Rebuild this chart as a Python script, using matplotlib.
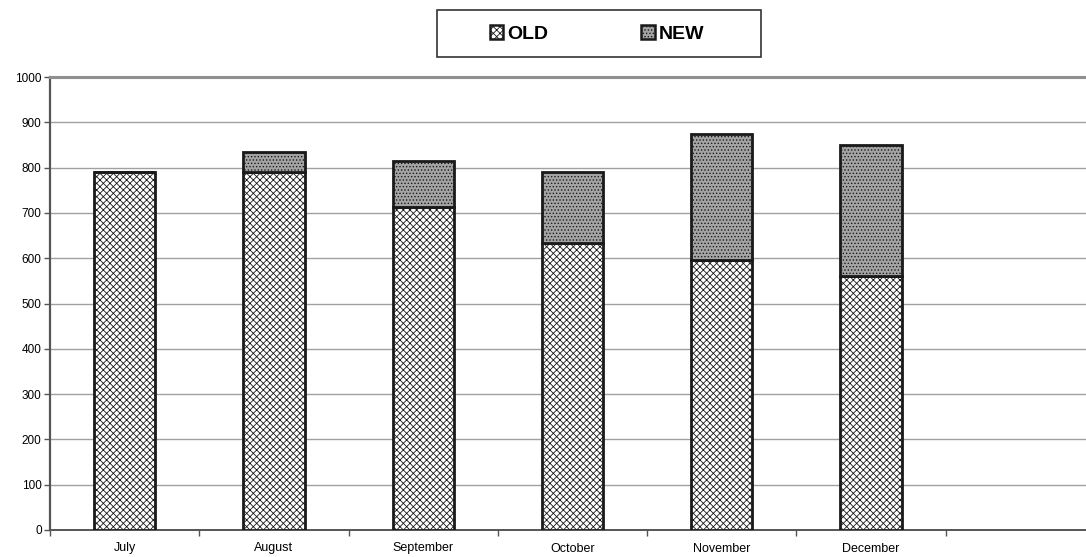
import numpy as np
import matplotlib.pyplot as plt
import matplotlib as mpl
from matplotlib.patches import Rectangle

plt.rcParams['font.family'] = ['Liberation Sans', 'DejaVu Sans']
mpl.rcParams['hatch.linewidth'] = 0.6

months = ['July', 'August', 'September', 'October', 'November', 'December']
old = [790, 790, 713, 634, 597, 561]
new = [0, 44, 102, 156, 278, 289]

fig = plt.figure(figsize=(10.86, 5.57), dpi=100)
ax = fig.add_axes([50/1086, 1 - 530/557, 1036/1086, 453/557])

x = np.arange(len(months))
w = 0.41
mpl.rcParams['hatch.color'] = '#a0a0a0'
b1 = ax.bar(x, old, w, color='white', edgecolor='#1a1a1a', linewidth=2,
            hatch='xxxxx', label='OLD', zorder=3)
b2 = ax.bar(x, new, w, bottom=old, color='#a4a4a4', edgecolor='#1a1a1a',
            linewidth=2, hatch='.....', label='NEW', zorder=3)

ax.set_yticks(np.arange(0, 1001, 100))
ax.yaxis.grid(True, color='#a0a0a0', linewidth=1)
ax.set_axisbelow(True)

ax.set_xticks(x)
ax.set_xticklabels(months, fontsize=9)
ax.set_xticks(np.arange(-0.5, 6, 1), minor=True)
ax.set_ylim(0, 1000)
ax.set_xlim(-0.5, 6.44)
ax.tick_params(axis='x', which='major', length=0, pad=9)
ax.tick_params(axis='x', which='minor', length=4, width=1, color='#555555', direction='out')
ax.tick_params(axis='y', length=4, width=1, color='#555555', labelsize=8.5, pad=2)

ax.spines['right'].set_visible(False)
ax.spines['top'].set_color('#909090')
ax.spines['top'].set_linewidth(2.2)
ax.spines['left'].set_color('#555555')
ax.spines['left'].set_linewidth(1.6)
ax.spines['bottom'].set_color('#555555')
ax.spines['bottom'].set_linewidth(1.4)

# legend box
fig.patches.append(Rectangle((437/1086, 1 - 57/557), 324/1086, 47/557,
                             transform=fig.transFigure, facecolor='white',
                             edgecolor='#333333', linewidth=1.2))
leg = fig.legend(handles=[b1, b2], labels=['OLD', 'NEW'], loc='center',
                 bbox_to_anchor=(597/1086, 1 - 34/557), ncol=2,
                 prop={'weight': 'bold', 'size': 14}, frameon=False,
                 handlelength=0.7, handleheight=0.7, handletextpad=0.2,
                 columnspacing=4.8, borderaxespad=0)
for h in leg.legend_handles:
    h.set_linewidth(1.8)

fig.savefig('out.png', dpi=100)
